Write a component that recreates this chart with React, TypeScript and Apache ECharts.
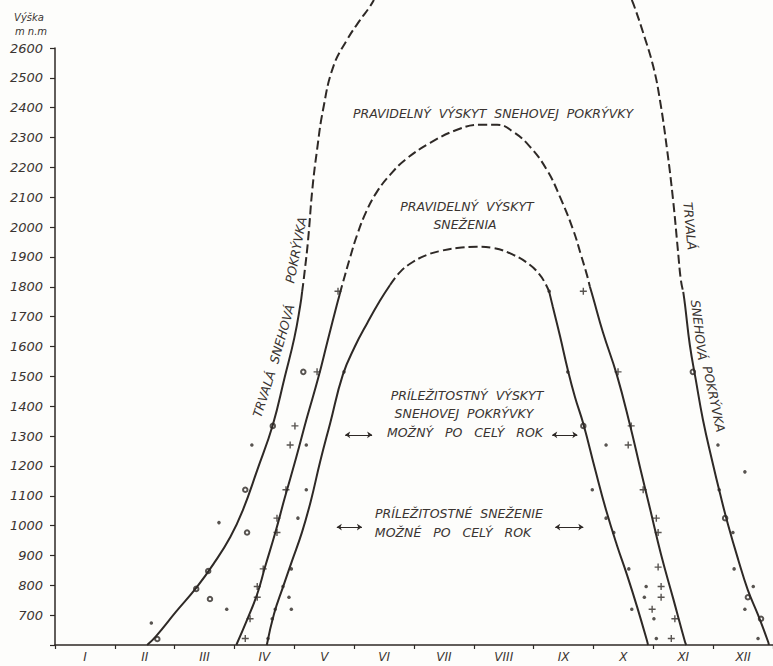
import React, { useEffect, useRef } from 'react';
import * as echarts from 'echarts';

// ---------- data (x = month position, 0 = start of January; y = altitude m a.s.l.) ----------
const months = ['I', 'II', 'III', 'IV', 'V', 'VI', 'VII', 'VIII', 'IX', 'X', 'XI', 'XII'];

// Trvalá snehová pokrývka – left (spring) branch
const trvalaLeftSolid = [[1.54, 600], [1.69, 630], [2.02, 711], [2.37, 794], [2.66, 875], [2.93, 962], [3.14, 1052], [3.38, 1186], [3.64, 1337], [3.84, 1498], [4.0, 1629], [4.1, 1739], [4.13, 1783]];
const trvalaLeftDashed = [[4.13, 1783], [4.16, 1830], [4.23, 1957], [4.3, 2125], [4.38, 2259], [4.48, 2393], [4.65, 2537], [4.88, 2627], [5.1, 2694], [5.25, 2735], [5.33, 2761]];
// Trvalá snehová pokrývka – right (autumn) branch
const trvalaRightDashed = [[9.64, 2761], [9.69, 2735], [9.83, 2651], [10.0, 2537], [10.11, 2426], [10.23, 2259], [10.33, 2091], [10.41, 1924], [10.46, 1823], [10.5, 1783]];
const trvalaRightSolid = [[10.5, 1783], [10.53, 1739], [10.61, 1605], [10.71, 1488], [10.83, 1354], [10.98, 1220], [11.12, 1103], [11.25, 1002], [11.42, 885], [11.58, 784], [11.75, 701], [11.92, 610], [11.93, 600]];

// Pravidelný výskyt snehovej pokrývky (boundary)
const pokryvkaSolidLeft = [[3.03, 600], [3.21, 684], [3.38, 771], [3.51, 861], [3.68, 975], [3.84, 1093], [4.03, 1227], [4.21, 1361], [4.4, 1495], [4.56, 1622], [4.71, 1739], [4.76, 1776]];
const pokryvkaDashed = [[4.76, 1776], [4.81, 1813], [4.93, 1897], [5.05, 1974], [5.2, 2051], [5.38, 2118], [5.6, 2175], [5.85, 2225], [6.27, 2282], [6.72, 2326], [7.1, 2343], [7.39, 2343], [7.66, 2319], [7.94, 2269], [8.22, 2192], [8.44, 2101], [8.66, 1991], [8.79, 1907], [8.89, 1840], [8.94, 1800]];
const pokryvkaSolidRight = [[8.94, 1800], [8.99, 1766], [9.16, 1646], [9.39, 1505], [9.61, 1337], [9.78, 1193], [9.95, 1052], [10.13, 902], [10.33, 757], [10.53, 610], [10.55, 600]];

// Pravidelný výskyt sneženia (boundary)
const snezenieSolidLeft = [[3.54, 600], [3.66, 704], [3.81, 794], [3.96, 881], [4.13, 979], [4.28, 1086], [4.43, 1213], [4.6, 1344], [4.81, 1505], [5.01, 1599], [5.22, 1679], [5.43, 1753], [5.6, 1806]];
const snezenieDashed = [[5.6, 1806], [5.77, 1850], [5.98, 1883], [6.22, 1907], [6.44, 1920], [6.72, 1930], [7.05, 1934], [7.32, 1930], [7.66, 1907], [7.94, 1873], [8.09, 1843], [8.19, 1813], [8.26, 1783]];
const snezenieSolidRight = [[8.26, 1783], [8.32, 1733], [8.44, 1635], [8.57, 1522], [8.69, 1431], [8.83, 1341], [9.03, 1186], [9.21, 1052], [9.39, 935], [9.56, 835], [9.73, 727], [9.9, 610], [9.91, 600]];

// observations
const dots = [[4.83, 1515], [4.2, 1270], [3.29, 1270], [4.2, 1120], [4.06, 1025], [2.74, 1010], [3.81, 796], [3.91, 760], [3.95, 720], [3.68, 720], [2.87, 720], [3.63, 688], [3.56, 622], [1.61, 674], [3.95, 855], [8.26, 1785],
  [8.57, 1515], [9.21, 1270], [11.08, 1270], [11.53, 1180], [8.98, 1120], [11.1, 1120], [9.21, 1025], [9.34, 977], [11.33, 977], [9.59, 855], [11.35, 855], [9.88, 796], [11.67, 796], [9.85, 760], [9.64, 720], [11.53, 720], [10.01, 688], [10.05, 622], [11.75, 622], [10.06, 2644]];
const rings = [[4.15, 1515], [3.64, 1334], [3.18, 1120], [3.21, 977], [2.56, 848], [2.36, 788], [2.59, 754], [1.71, 620], [10.66, 1515], [8.83, 1334], [11.2, 1025], [11.58, 760], [11.8, 688]];
const crosses = [[4.38, 1515], [4.01, 1334], [3.93, 1270], [3.86, 1120], [3.71, 1025], [3.71, 977], [3.48, 855], [3.38, 796], [3.38, 760], [3.26, 688], [3.18, 622], [4.73, 1785],
  [9.41, 1515], [9.63, 1334], [9.58, 1270], [9.83, 1120], [10.05, 1025], [10.08, 977], [10.08, 861], [10.13, 796], [10.13, 760], [9.98, 720], [10.36, 688], [10.3, 622], [8.83, 1785]];

// double-headed arrows: [fromMonth, toMonth, altitude]
const arrows = [[4.85, 5.3, 1304], [8.31, 8.73, 1304], [4.71, 5.13, 995], [8.36, 8.83, 995]];

// annotation texts
const labelTop = 'PRAVIDELNÝ  VÝSKYT  SNEHOVEJ  POKRÝVKY';
const labelMid = ['PRAVIDELNÝ  VÝSKYT', 'SNEŽENIA'];
const labelCover = ['PRÍLEŽITOSTNÝ  VÝSKYT', 'SNEHOVEJ  POKRÝVKY', 'MOŽNÝ   PO   CELÝ   ROK'];
const labelSnow = ['PRÍLEŽITOSTNÉ  SNEŽENIE', 'MOŽNÉ   PO   CELÝ   ROK'];
const labelPermanent = ['TRVALÁ', 'SNEHOVÁ', 'POKRÝVKA'];
const axisTitle = ['Výška', 'm n.m'];

const ink = '#2e2926';
const textInk = '#3a3431';
const font = 'DejaVu Sans';

export default function App() {
  const ref = useRef<HTMLDivElement>(null);
  useEffect(() => {
    const chart = echarts.init(ref.current!, null, { renderer: 'svg' });
    const line = (data: number[][], dashed: boolean) => ({
      type: 'line',
      xAxisIndex: 1,
      yAxisIndex: 0,
      data,
      symbol: 'none',
      smooth: 0.45,
      clip: false,
      silent: true,
      lineStyle: { color: ink, width: 2, type: dashed ? [9, 4] : 'solid' },
    });
    const txt = (text: string, x: number, y: number, size = 12, rotation = 0) => ({
      type: 'text',
      x,
      y,
      rotation,
      silent: true,
      style: {
        text,
        fill: textInk,
        fontFamily: font,
        fontStyle: 'italic',
        fontSize: size,
        align: 'center',
        verticalAlign: 'middle',
      },
    });
    const option: any = {
      animation: false,
      backgroundColor: '#fdfdfb',
      textStyle: { fontFamily: font },
      grid: { left: 55, right: 0, top: 48, bottom: 21, containLabel: false },
      xAxis: [
        {
          type: 'category',
          data: months,
          boundaryGap: true,
          axisLine: { lineStyle: { color: ink, width: 1.5 } },
          axisTick: { show: true, length: 4, lineStyle: { color: ink, width: 1.2 } },
          axisLabel: { color: textInk, fontStyle: 'italic', fontSize: 12, margin: 6, fontFamily: font },
          splitLine: { show: false },
        },
        { type: 'value', min: 0, max: 12, show: false },
      ],
      yAxis: {
        type: 'value',
        min: 600,
        max: 2600,
        interval: 100,
        axisLine: { show: true, lineStyle: { color: ink, width: 1.5 } },
        axisTick: { show: true, length: 5, lineStyle: { color: ink, width: 1.2 } },
        axisLabel: {
          color: textInk,
          fontStyle: 'italic',
          fontSize: 13,
          margin: 12,
          fontFamily: font,
          formatter: (v: number) => (v === 600 ? '' : String(v)),
        },
        splitLine: { show: false },
      },
      series: [
        line(trvalaLeftSolid, false),
        line(trvalaLeftDashed, true),
        line(trvalaRightDashed, true),
        line(trvalaRightSolid, false),
        line(pokryvkaSolidLeft, false),
        line(pokryvkaDashed, true),
        line(pokryvkaSolidRight, false),
        line(snezenieSolidLeft, false),
        line(snezenieDashed, true),
        line(snezenieSolidRight, false),
        {
          type: 'scatter',
          xAxisIndex: 1,
          data: dots,
          symbol: 'circle',
          symbolSize: 3.5,
          silent: true,
          itemStyle: { color: ink },
          markLine: {
            silent: true,
            symbol: ['arrow', 'arrow'],
            symbolSize: 5,
            label: { show: false },
            lineStyle: { color: ink, width: 1, type: 'solid' },
            data: arrows.map((a) => [{ coord: [a[0], a[2]] }, { coord: [a[1], a[2]] }]),
          },
        },
        {
          type: 'scatter',
          xAxisIndex: 1,
          data: rings,
          symbol: 'emptyCircle',
          symbolSize: 4.5,
          silent: true,
          itemStyle: { color: ink, borderColor: ink, borderWidth: 1 },
        },
        {
          type: 'scatter',
          xAxisIndex: 1,
          data: crosses,
          symbol: 'path://M4,0H6V4H10V6H6V10H4V6H0V4H4Z',
          symbolSize: 7,
          silent: true,
          itemStyle: { color: ink },
        },
      ],
      graphic: [
        txt(axisTitle[0], 29, 17, 10),
        txt(axisTitle[1], 31, 31, 10),
        txt(labelTop, 493, 113, 12.5),
        txt(labelMid[0], 467, 206, 12.5),
        txt(labelMid[1], 465, 224, 12.5),
        txt(labelCover[0], 467, 395, 12.5),
        txt(labelCover[1], 464, 413, 12.5),
        txt(labelCover[2], 465, 432, 12.5),
        txt(labelSnow[0], 459, 513, 12.5),
        txt(labelSnow[1], 453, 532, 12.5),
        txt(labelPermanent[0], 264, 394, 12.5, 1.26),
        txt(labelPermanent[1], 282, 334, 12.5, 1.29),
        txt(labelPermanent[2], 296, 250, 12.5, 1.38),
        txt(labelPermanent[0], 690, 226, 12.5, -1.48),
        txt(labelPermanent[1], 699, 330, 12.5, -1.45),
        txt(labelPermanent[2], 714, 399, 12.5, -1.36),
      ],
    };
    chart.setOption(option);
    return () => chart.dispose();
  }, []);
  return <div ref={ref} style={{ position: 'absolute', left: 0, top: 0, width: 773, height: 666 }} />;
}
